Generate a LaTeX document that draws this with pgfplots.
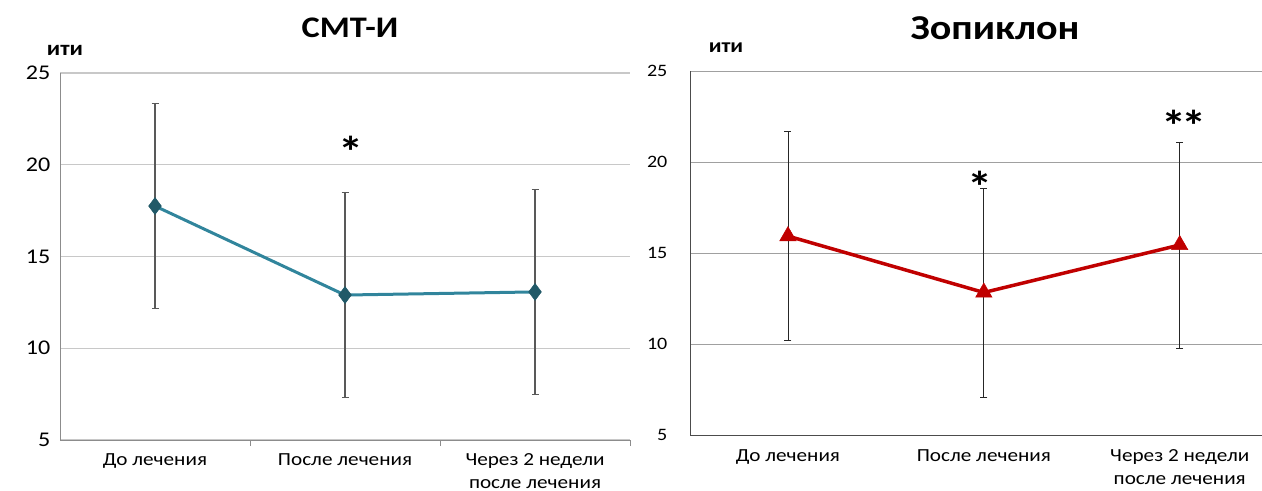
\documentclass[border=0pt]{standalone}
\usepackage{fontspec}
\setmainfont{Carlito}[FakeStretch=1.15]
\usepackage{pgfplots}
\pgfplotsset{compat=1.18}
\definecolor{teal1}{HTML}{31859C}
\definecolor{tealdark}{HTML}{215968}
\definecolor{red1}{HTML}{C00000}
\definecolor{gridl}{HTML}{C8C8C8}
\definecolor{gridr}{HTML}{A0A0A0}
\definecolor{axl}{HTML}{8C8C8C}

\pgfplotstableread{
x y e
0 17.75 5.60
1 12.90 5.57
2 13.07 5.60
}\leftdata
\pgfplotstableread{
x y e
0 15.93 5.75
1 12.83 5.74
2 15.44 5.66
}\rightdata

\pgfplotsset{
  common/.style={
    scale only axis,
    /pgf/number format/assume math mode=true,
    ymin=5, ymax=25,
    ytick={5,10,15,20,25},
    ymajorgrids,
    axis lines=left,
    axis line style={-},
    xtick={0,1,2},
    xticklabels={До лечения, После лечения, {Через 2 недели\\после лечения}},
    xticklabel style={align=center, font=\fontsize{18.5}{23}\selectfont},
    major tick style={draw=none},
    clip=false,
  }
}

\begin{document}
\begin{tikzpicture}
\path[use as bounding box] (0bp,0bp) rectangle (1262bp,-491bp);

% ---------- left panel ----------
\begin{axis}[common,
  at={(60bp,-440bp)}, anchor=south west,
  width=570bp, height=367bp,
  xmin=-0.5, xmax=2.5,
  grid style={gridl, line width=1.2bp},
  axis line style={axl, line width=1bp},
  minor xtick={0.5,1.5,2.5},
  minor tick length=6bp,
  tick align=outside,
  minor tick style={axl, line width=1bp},
  yticklabel style={font=\fontsize{21}{24}\selectfont, xshift=-2bp},
  xticklabel style={yshift=-6bp},
]
\addplot[teal1, line width=3bp, mark=diamond*, mark size=8.5bp,
  mark options={tealdark, fill=tealdark, line width=0.5bp},
  error bars/.cd, y dir=both, y explicit,
  error bar style={black!65, line width=1.1bp},
  error mark options={rotate=90, mark size=3.5bp, black!65, line width=1.1bp}]
  table[x=x, y=y, y error=e] {\leftdata};
\node[font=\bfseries\fontsize{44}{44}\selectfont] at (axis cs:1.03,20.7) {*};
\end{axis}
\node[font=\bfseries\fontsize{21}{24}\selectfont] at (65bp,-50bp) {ити};
\node[font=\bfseries\fontsize{30}{32}\selectfont] at (350bp,-28bp) {СМТ-И};

% ---------- right panel ----------
\begin{axis}[common,
  at={(690bp,-435bp)}, anchor=south west,
  width=572bp, height=364bp,
  xmin=-0.5, xmax=2.42,
  grid style={gridr, line width=1bp},
  axis line style={black!70, line width=1bp},
  yticklabel style={font=\fontsize{17.5}{20}\selectfont, xshift=-17bp},
  xticklabel style={yshift=-9bp},
]
\addplot[red1, line width=3.5bp, mark=triangle*, mark size=9.5bp,
  mark options={red1, fill=red1, line width=0.5bp},
  error bars/.cd, y dir=both, y explicit,
  error bar style={black!85, line width=0.9bp},
  error mark options={rotate=90, mark size=3.5bp, black!85, line width=0.9bp}]
  table[x=x, y=y, y error=e] {\rightdata};
\node[font=\bfseries\fontsize{44}{44}\selectfont] at (axis cs:0.98,18.65) {*};
\node[font=\bfseries\fontsize{44}{44}\selectfont] at (axis cs:2.02,22.0) {*\kern-5bp*};
\end{axis}
\node[font=\bfseries\fontsize{20}{22}\selectfont] at (726bp,-48bp) {ити};
\node[font=\bfseries\fontsize{35}{36}\selectfont] at (995bp,-28bp) {Зопиклон};
\end{tikzpicture}
\end{document}
